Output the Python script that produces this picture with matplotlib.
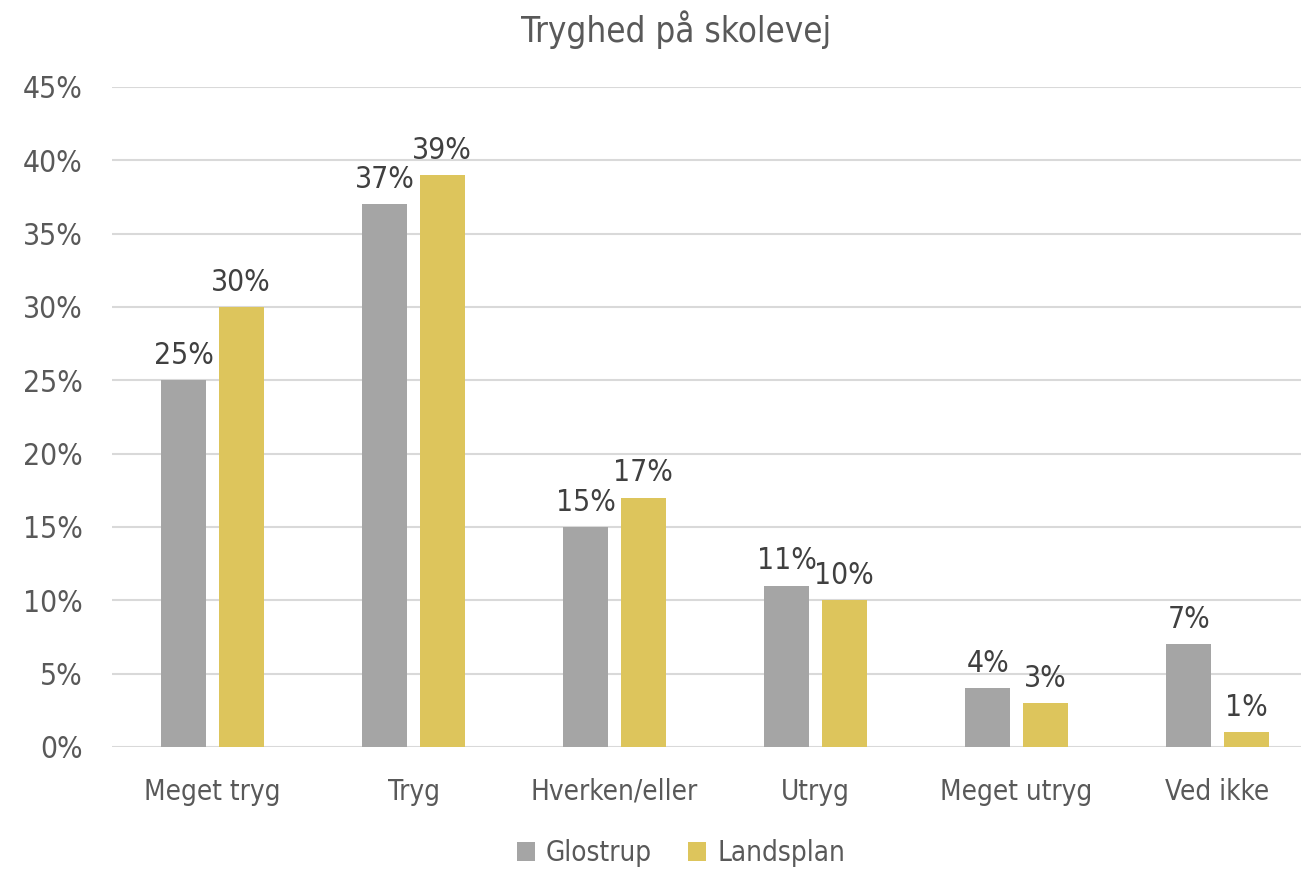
import matplotlib.pyplot as plt
import numpy as np
from matplotlib.ticker import FuncFormatter

categories = ["Meget tryg", "Tryg", "Hverken/eller", "Utryg", "Meget utryg", "Ved ikke"]
glostrup = [25, 37, 15, 11, 4, 7]
landsplan = [30, 39, 17, 10, 3, 1]
yticks = [0, 5, 10, 15, 20, 25, 30, 35, 40, 45]

GRAY = "#A5A5A5"
GOLD = "#DDC55C"
TXT = "#595959"
LBL = "#404040"

plt.rcParams['font.family'] = ['DejaVu Sans']
plt.rcParams['font.stretch'] = 'condensed'

fig = plt.figure(figsize=(13.01, 8.69), dpi=100)
W, H = 1301, 869
ax = fig.add_axes([112 / W, 1 - 747 / H, 1206 / W, (747 - 87) / H])

x = np.arange(len(categories))
bw = 0.224
off = 0.142
b1 = ax.bar(x - off, glostrup, bw, color=GRAY, label="Glostrup", zorder=3)
b2 = ax.bar(x + off, landsplan, bw, color=GOLD, label="Landsplan", zorder=3)

for bars, vals in ((b1, glostrup), (b2, landsplan)):
    for r, v in zip(bars, vals):
        ax.text(r.get_x() + r.get_width() / 2, v + 0.7, f"{v}%", ha="center", va="bottom",
                fontsize=21.5, color=LBL)

ax.set_xlim(-0.5, len(categories) - 0.5)
ax.set_ylim(0, 45)
ax.set_yticks(yticks)
ax.yaxis.set_major_formatter(FuncFormatter(lambda v, p: f"{v:.0f}%"))
ax.set_xticks(x)
ax.set_xticklabels(categories)
ax.tick_params(axis="both", length=0, colors=TXT)
ax.tick_params(axis="y", pad=21, labelsize=21.5)
ax.tick_params(axis="x", pad=22, labelsize=20)
ax.grid(axis="y", color="#D9D9D9", linewidth=1.5, zorder=0)
for s in ax.spines.values():
    s.set_visible(False)

fig.text(676 / W, 1 - 30 / H, "Tryghed på skolevej", ha="center", va="center", fontsize=25, color=TXT)
fig.legend(handles=[b1, b2], loc="center", bbox_to_anchor=(681 / W, 1 - 853 / H), ncol=2,
           frameon=False, fontsize=20, labelcolor=TXT, handlelength=0.65, handleheight=0.65,
           handletextpad=0.4, columnspacing=1.3)

fig.savefig("out.png", dpi=100)
